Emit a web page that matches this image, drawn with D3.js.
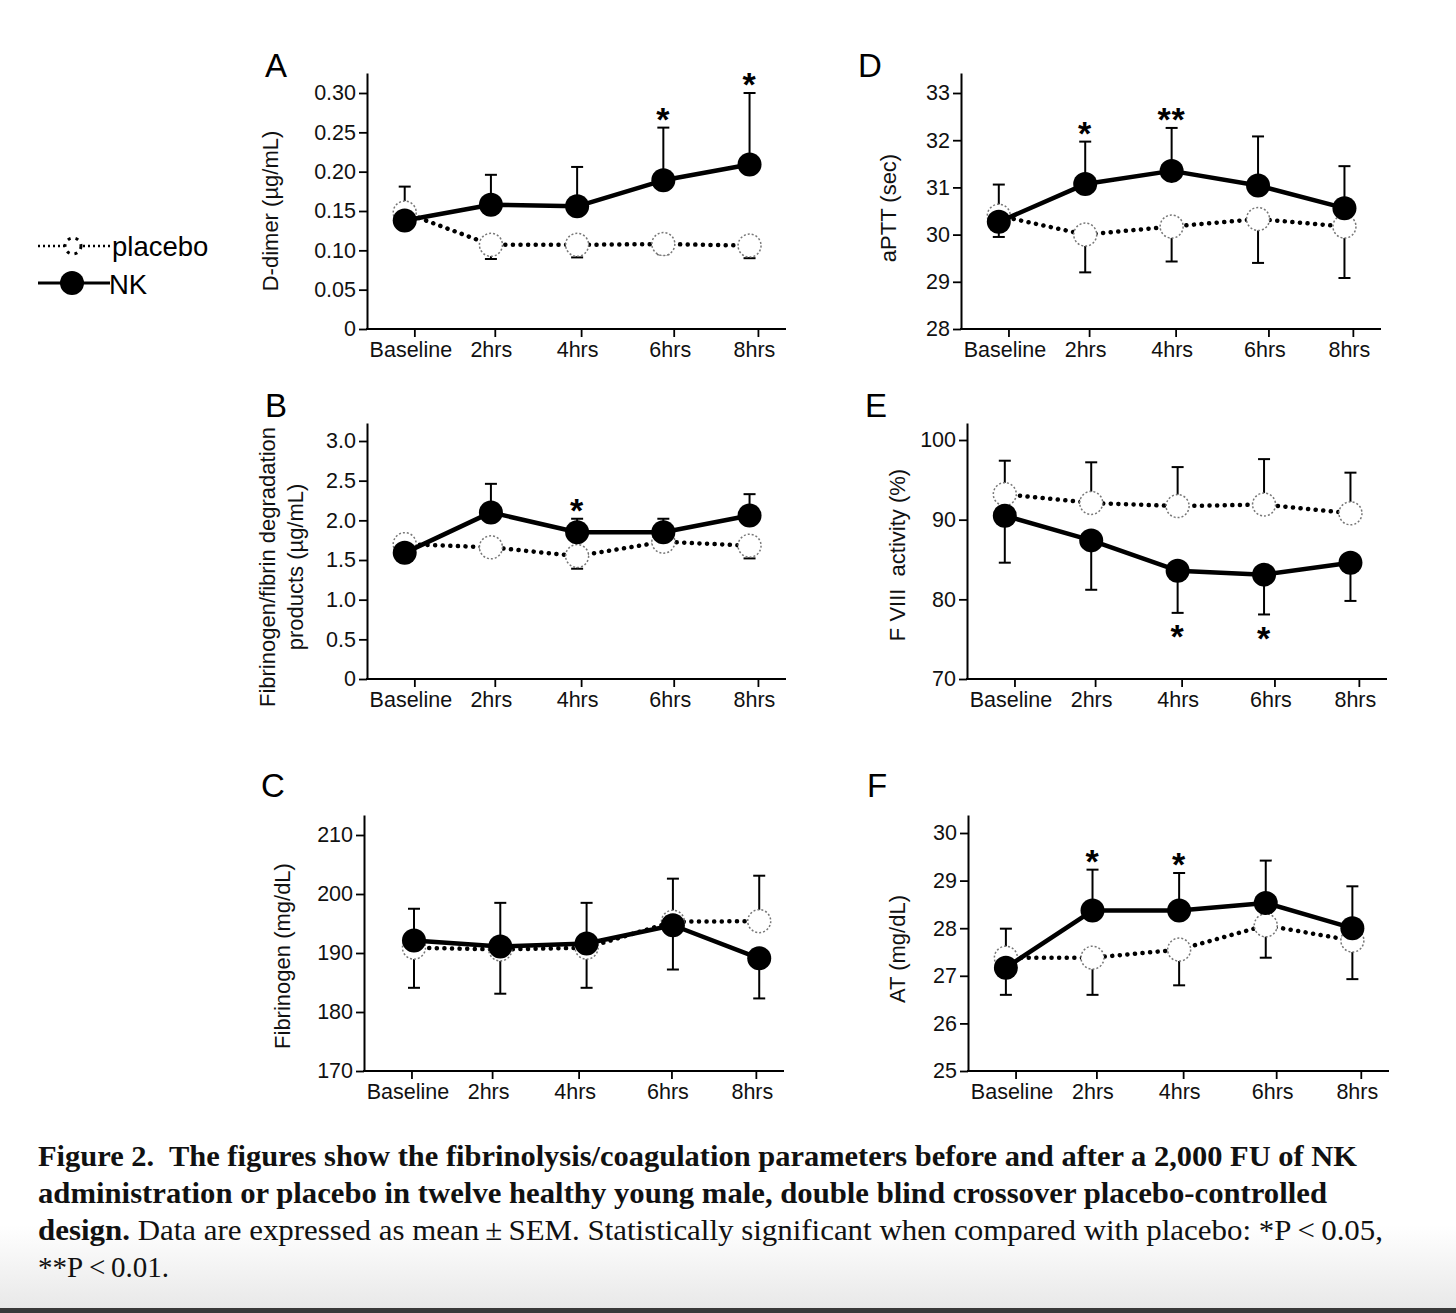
<!DOCTYPE html>
<html>
<head>
<meta charset="utf-8">
<script src="https://cdn.jsdelivr.net/npm/d3@7"></script>
<style>
  body { margin: 0; background: #fff; }
  svg { display: block; }
</style>
</head>
<body>
<svg id="fig"></svg>
<script>
// ---- data ----
const categories = ["Baseline", "2hrs", "4hrs", "6hrs", "8hrs"];
const hours = [0, 2, 4, 6, 8];

// A: D-dimer (ug/mL)
const dDimerNK = [0.138, 0.158, 0.156, 0.189, 0.209];
const dDimerNKSem = [0.043, 0.038, 0.050, 0.067, 0.091];
const dDimerPlacebo = [0.148, 0.107, 0.107, 0.108, 0.106];
const dDimerPlaceboSem = [0.010, 0.018, 0.016, 0.013, 0.016];
const dDimerTicks = [0, 0.05, 0.10, 0.15, 0.20, 0.25, 0.30];
const dDimerTickLabels = ["0", "0.05", "0.10", "0.15", "0.20", "0.25", "0.30"];
const dDimerStars = ["", "", "", "*", "*"];

// B: fibrinogen/fibrin degradation products (ug/mL)
const fdpNK = [1.59, 2.10, 1.85, 1.85, 2.06];
const fdpNKSem = [0.08, 0.36, 0.17, 0.17, 0.27];
const fdpPlacebo = [1.70, 1.66, 1.55, 1.73, 1.68];
const fdpPlaceboSem = [0.05, 0.06, 0.16, 0.05, 0.16];
const fdpTicks = [0, 0.5, 1.0, 1.5, 2.0, 2.5, 3.0];
const fdpTickLabels = ["0", "0.5", "1.0", "1.5", "2.0", "2.5", "3.0"];
const fdpStars = ["", "", "*", "", ""];

// C: fibrinogen (mg/dL)
const fibNK = [192.1, 191.1, 191.6, 194.7, 189.1];
const fibNKSem = [8.0, 8.0, 7.5, 7.5, 6.8];
const fibPlacebo = [190.9, 190.6, 190.9, 195.3, 195.4];
const fibPlaceboSem = [6.6, 7.9, 7.6, 7.3, 7.7];
const fibTicks = [170, 180, 190, 200, 210];
const fibTickLabels = ["170", "180", "190", "200", "210"];
const fibStars = ["", "", "", "", ""];

// D: aPTT (sec)
const apttNK = [30.27, 31.07, 31.35, 31.04, 30.56];
const apttNKSem = [0.79, 0.90, 0.91, 1.04, 0.89];
const apttPlacebo = [30.40, 30.00, 30.17, 30.33, 30.17];
const apttPlaceboSem = [0.45, 0.80, 0.74, 0.93, 1.09];
const apttTicks = [28, 29, 30, 31, 32, 33];
const apttTickLabels = ["28", "29", "30", "31", "32", "33"];
const apttStars = ["", "*", "**", "", ""];

// E: F VIII activity (%)
const f8NK = [90.5, 87.4, 83.6, 83.1, 84.6];
const f8NKSem = [5.9, 6.2, 5.3, 5.0, 4.8];
const f8Placebo = [93.2, 92.1, 91.7, 91.9, 90.8];
const f8PlaceboSem = [4.2, 5.1, 4.9, 5.7, 5.1];
const f8Ticks = [70, 80, 90, 100];
const f8TickLabels = ["70", "80", "90", "100"];
const f8Stars = ["", "", "*", "*", ""];

// F: AT (mg/dL)
const atNK = [27.17, 28.37, 28.37, 28.53, 28.00];
const atNKSem = [0.82, 0.86, 0.79, 0.89, 0.88];
const atPlacebo = [27.38, 27.38, 27.55, 28.06, 27.74];
const atPlaceboSem = [0.78, 0.78, 0.75, 0.68, 0.81];
const atTicks = [25, 26, 27, 28, 29, 30];
const atTickLabels = ["25", "26", "27", "28", "29", "30"];
const atStars = ["", "*", "*", "", ""];

// ---- layout ----
const W = 1456, H = 1313;
const SANS = '"Liberation Sans", Arial, sans-serif';
const SERIF = '"Liberation Serif", "Times New Roman", serif';
// in the original the x tick marks do not sit exactly under the data points
const markFrac = [0.09, 0.913];                          // first / last data point
const tickFrac = [0.113, 0.305, 0.511, 0.732, 0.933];    // tick marks

const panels = [
  { letter: "A", letterY: 77, title: ["D-dimer (\u00b5g/mL)"], titleX: 270, titleY: 211,
    ox: 367, right: 786, yBottom: 329, yTopTick: 93, axisTop: 73,
    nk: dDimerNK, nkSem: dDimerNKSem, pl: dDimerPlacebo, plSem: dDimerPlaceboSem,
    ticks: dDimerTicks, tickLabels: dDimerTickLabels, stars: dDimerStars, nkSide: 1 },
  { letter: "B", letterY: 417, title: ["Fibrinogen/fibrin degradation", "products (\u00b5g/mL)"], titleX: 282, titleY: 567,
    ox: 367, right: 786, yBottom: 679, yTopTick: 441, axisTop: 423,
    nk: fdpNK, nkSem: fdpNKSem, pl: fdpPlacebo, plSem: fdpPlaceboSem,
    ticks: fdpTicks, tickLabels: fdpTickLabels, stars: fdpStars, nkSide: 1 },
  { letter: "C", letterY: 797, title: ["Fibrinogen (mg/dL)"], titleX: 282, titleY: 956,
    ox: 364, right: 784, yBottom: 1071, yTopTick: 835, axisTop: 815,
    nk: fibNK, nkSem: fibNKSem, pl: fibPlacebo, plSem: fibPlaceboSem,
    ticks: fibTicks, tickLabels: fibTickLabels, stars: fibStars, nkSide: -1,
    markFrac: [0.119, 0.941] },
  { letter: "D", letterY: 77, title: ["aPTT (sec)"], titleX: 888, titleY: 208,
    ox: 961, right: 1381, yBottom: 329, yTopTick: 93, axisTop: 73,
    nk: apttNK, nkSem: apttNKSem, pl: apttPlacebo, plSem: apttPlaceboSem,
    ticks: apttTicks, tickLabels: apttTickLabels, stars: apttStars, nkSide: 1 },
  { letter: "E", letterY: 417, title: ["F VIII\u00a0 activity (%)"], titleX: 897, titleY: 555,
    ox: 967, right: 1387, yBottom: 679, yTopTick: 440, axisTop: 423,
    nk: f8NK, nkSem: f8NKSem, pl: f8Placebo, plSem: f8PlaceboSem,
    ticks: f8Ticks, tickLabels: f8TickLabels, stars: f8Stars, nkSide: -1 },
  { letter: "F", letterY: 797, title: ["AT (mg/dL)"], titleX: 897, titleY: 949,
    ox: 968, right: 1389, yBottom: 1071, yTopTick: 833, axisTop: 815,
    nk: atNK, nkSem: atNKSem, pl: atPlacebo, plSem: atPlaceboSem,
    ticks: atTicks, tickLabels: atTickLabels, stars: atStars, nkSide: 1 }
];

const svg = d3.select("#fig").attr("width", W).attr("height", H);

// background with the faint grey fade and dark strip at the bottom
const defs = svg.append("defs");
const grad = defs.append("linearGradient").attr("id", "fade")
  .attr("x1", 0).attr("y1", 0).attr("x2", 0).attr("y2", 1);
grad.append("stop").attr("offset", "0%").attr("stop-color", "#ffffff");
grad.append("stop").attr("offset", "100%").attr("stop-color", "#e8e8e8");
svg.append("rect").attr("width", W).attr("height", H).attr("fill", "#fff");
svg.append("rect").attr("y", 1225).attr("width", W).attr("height", 84).attr("fill", "url(#fade)");
svg.append("rect").attr("y", 1308).attr("width", W).attr("height", 5).attr("fill", "#3a3a3a");

function drawPanel(p) {
  const g = svg.append("g");
  const w = p.right - p.ox;
  const mf = p.markFrac || markFrac;
  const x = d3.scaleLinear().domain([hours[0], hours[hours.length - 1]])
    .range(mf.map(f => p.ox + f * w));
  const xTick = d3.scaleLinear().domain(hours).range(tickFrac.map(f => p.ox + f * w));

  const lo = p.ticks[0], hi = p.ticks[p.ticks.length - 1];
  const ext = hi + (hi - lo) * (p.yTopTick - p.axisTop) / (p.yBottom - p.yTopTick);
  const y = d3.scaleLinear().domain([lo, ext]).range([p.yBottom, p.axisTop]);

  // y axis
  const ya = g.append("g")
    .attr("transform", `translate(${p.ox},0)`)
    .call(d3.axisLeft(y).tickValues(p.ticks).tickFormat((d, i) => p.tickLabels[i])
      .tickSize(8).tickSizeOuter(0).tickPadding(3));
  ya.attr("font-size", 21.5).attr("font-family", SANS);
  ya.select(".domain").attr("stroke-width", 2);
  ya.selectAll(".tick line").attr("stroke-width", 1.8);
  ya.selectAll("text").attr("fill", "#111");

  // x axis
  const xa = g.append("g")
    .attr("transform", `translate(0,${p.yBottom})`)
    .call(d3.axisBottom(xTick).tickValues(hours).tickFormat((d, i) => categories[i])
      .tickSize(8).tickSizeOuter(0).tickPadding(5));
  xa.attr("font-size", 21.5).attr("font-family", SANS);
  xa.select(".domain").remove();
  xa.selectAll(".tick line").attr("stroke-width", 1.8);
  xa.selectAll("text").attr("fill", "#111").attr("dx", -4);
  g.append("line")
    .attr("x1", p.ox - 1).attr("x2", p.right)
    .attr("y1", p.yBottom).attr("y2", p.yBottom)
    .attr("stroke", "#000").attr("stroke-width", 2);

  // panel letter
  g.append("text")
    .attr("x", p.ox - 91).attr("y", p.letterY)
    .attr("text-anchor", "middle")
    .attr("font-family", SANS).attr("font-size", 33)
    .text(p.letter);

  // y title (rotated)
  const t = g.append("text")
    .attr("transform", `translate(${p.titleX},${p.titleY}) rotate(-90)`)
    .attr("text-anchor", "middle")
    .attr("font-family", SANS).attr("font-size", 22).attr("fill", "#111");
  p.title.forEach((line, i) => {
    t.append("tspan").attr("x", 0)
      .attr("dy", i === 0 ? (p.title.length > 1 ? "-0.3em" : "0.35em") : "1.27em")
      .text(line);
  });

  // error bars (one-sided)
  const bars = [];
  p.nk.forEach((v, i) => bars.push({ i, v, end: v + p.nkSide * p.nkSem[i] }));
  p.pl.forEach((v, i) => bars.push({ i, v, end: v - p.nkSide * p.plSem[i] }));
  const eb = g.append("g").attr("stroke", "#000").attr("stroke-width", 2);
  eb.selectAll("line.bar").data(bars).join("line").attr("class", "bar")
    .attr("x1", d => x(hours[d.i])).attr("x2", d => x(hours[d.i]))
    .attr("y1", d => y(d.v)).attr("y2", d => y(d.end));
  eb.selectAll("line.cap").data(bars).join("line").attr("class", "cap")
    .attr("x1", d => x(hours[d.i]) - 6).attr("x2", d => x(hours[d.i]) + 6)
    .attr("y1", d => y(d.end)).attr("y2", d => y(d.end));

  const line = d3.line().x((d, i) => x(hours[i])).y(d => y(d));

  // placebo: dotted line, open dotted circles
  g.append("path").datum(p.pl).attr("d", line)
    .attr("fill", "none").attr("stroke", "#000").attr("stroke-width", 4.5)
    .attr("stroke-linecap", "round").attr("stroke-dasharray", "0.1 7.5");
  g.selectAll("circle.pl").data(p.pl).join("circle").attr("class", "pl")
    .attr("cx", (d, i) => x(hours[i])).attr("cy", d => y(d)).attr("r", 11.5)
    .attr("fill", "#fff").attr("stroke", "#777").attr("stroke-width", 1.5)
    .attr("stroke-dasharray", "2 2");

  // NK: solid line, filled circles
  g.append("path").datum(p.nk).attr("d", line)
    .attr("fill", "none").attr("stroke", "#000").attr("stroke-width", 4.5)
    .attr("stroke-linejoin", "round");
  g.selectAll("circle.nk").data(p.nk).join("circle").attr("class", "nk")
    .attr("cx", (d, i) => x(hours[i])).attr("cy", d => y(d)).attr("r", 12)
    .attr("fill", "#000");

  // significance marks beyond the NK error bar
  const fs = 34;
  g.selectAll("text.star").data(p.stars.map((s, i) => ({ s, i })).filter(d => d.s))
    .join("text").attr("class", "star")
    .attr("x", d => x(hours[d.i]))
    .attr("y", d => y(p.nk[d.i] + p.nkSide * p.nkSem[d.i]) - p.nkSide * 16 + 0.56 * fs)
    .attr("text-anchor", "middle")
    .attr("font-family", SANS).attr("font-weight", "bold").attr("font-size", fs)
    .attr("letter-spacing", 1)
    .text(d => d.s);
}

panels.forEach(drawPanel);

// legend
const lg = svg.append("g").attr("font-family", SANS).attr("font-size", 27.5);
lg.append("line").attr("x1", 38).attr("x2", 110).attr("y1", 246).attr("y2", 246)
  .attr("stroke", "#000").attr("stroke-width", 2.5).attr("stroke-dasharray", "2 3");
lg.append("circle").attr("cx", 73).attr("cy", 246).attr("r", 8)
  .attr("fill", "#fff").attr("stroke", "#000").attr("stroke-width", 3)
  .attr("stroke-dasharray", "3 5");
lg.append("text").attr("x", 112).attr("y", 256).text("placebo");
lg.append("line").attr("x1", 38).attr("x2", 110).attr("y1", 283).attr("y2", 283)
  .attr("stroke", "#000").attr("stroke-width", 3);
lg.append("circle").attr("cx", 72).attr("cy", 283).attr("r", 12).attr("fill", "#000");
lg.append("text").attr("x", 109).attr("y", 294).text("NK");

// caption
const cap = svg.append("g").attr("font-family", SERIF).attr("font-size", 29).attr("fill", "#111");
const capLines = [
  { y: 1166, w: 1319, parts: [["Figure 2.\u00a0 The figures show the fibrinolysis/coagulation parameters before and after a 2,000 FU of NK", true]] },
  { y: 1203, w: 1289, parts: [["administration or placebo in twelve healthy young male, double blind crossover placebo-controlled", true]] },
  { y: 1240, w: 1345, parts: [["design.", true], [" Data are expressed as mean\u2009\u00b1\u2009SEM. Statistically significant when compared with placebo: *P\u2009<\u20090.05,", false]] },
  { y: 1277, w: 0, parts: [["**P\u2009<\u20090.01.", false]] }
];
capLines.forEach(l => {
  const t = cap.append("text").attr("x", 38).attr("y", l.y);
  l.parts.forEach(([s, b]) => t.append("tspan").attr("font-weight", b ? "bold" : "normal").text(s));
  if (l.w) {
    const cur = t.node().getComputedTextLength();
    if (Math.abs(cur - l.w) > 3) t.attr("textLength", l.w).attr("lengthAdjust", "spacingAndGlyphs");
  }
});
</script>
</body>
</html>
